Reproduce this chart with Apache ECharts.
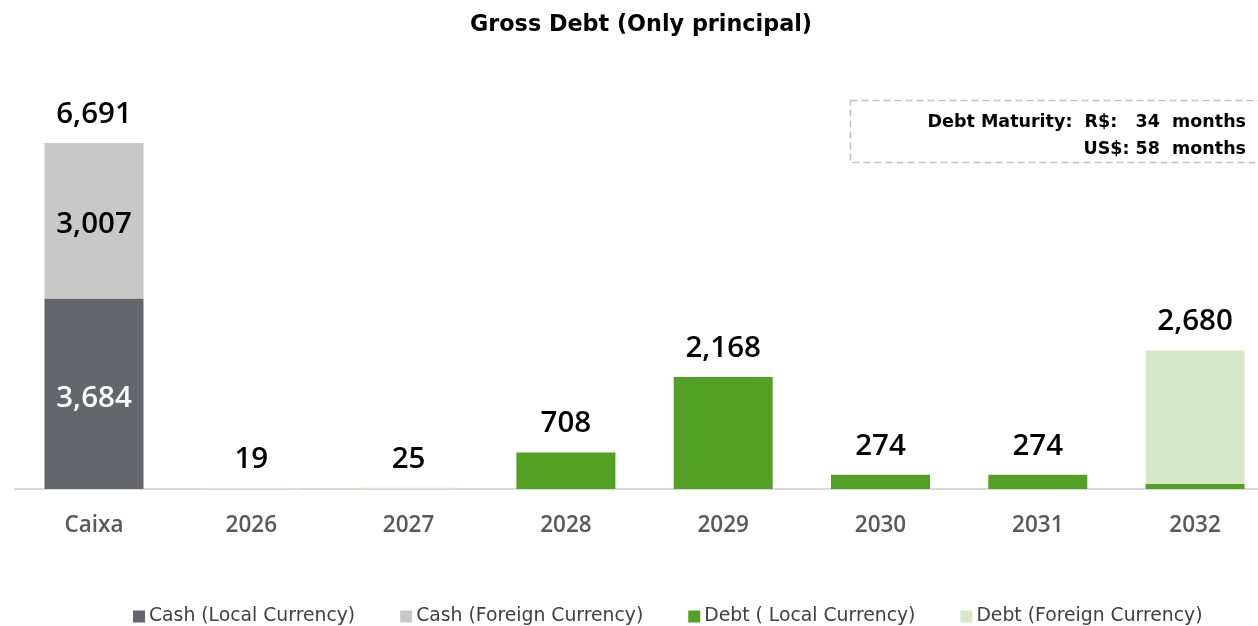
<!DOCTYPE html>
<html>
<head>
<meta charset="utf-8">
<script src="https://cdn.jsdelivr.net/npm/echarts@6/dist/echarts.min.js"></script>
<style>
html,body{margin:0;padding:0;background:#fff;}
#chart{width:1258px;height:626px;}
</style>
</head>
<body>
<div id="chart"></div>
<script>
const categories = ['Caixa', '2026', '2027', '2028', '2029', '2030', '2031', '2032'];
const cashLocal   = [3684, 0, 0, 0, 0, 0, 0, 0];
const cashForeign = [3007, 0, 0, 0, 0, 0, 0, 0];
const debtLocal   = [0, 0, 0, 708, 2168, 274, 274, 100];
const debtForeign = [0, 19, 25, 0, 0, 0, 0, 2580];
const totals      = [6691, 19, 25, 708, 2168, 274, 274, 2680];
const maturityLines = ['Debt Maturity:  R$:   34  months', 'US$: 58  months'];

const fmt = v => Number(v).toLocaleString('en-US');
const chart = echarts.init(document.getElementById('chart'));

const valueFont = { fontFamily: 'Open Sans', fontSize: 29.5, fontWeight: 600 };

chart.setOption({
  animation: false,
  title: {
    text: 'Gross Debt (Only principal)',
    left: 470, top: 14, padding: 0,
    textStyle: { fontFamily: 'DejaVu Sans', fontWeight: 'bold', fontSize: 22.3, color: '#000' }
  },
  legend: {
    data: ['Cash (Local Currency)', 'Cash (Foreign Currency)', 'Debt ( Local Currency)', 'Debt (Foreign Currency)'],
    left: 133, top: 607, padding: 0,
    itemWidth: 12, itemHeight: 12, itemGap: 45,
    icon: 'rect',
    textStyle: { fontFamily: 'DejaVu Sans', fontSize: 18.8, color: '#404040', padding: [0, 0, 0, -1] }
  },
  grid: { left: 15.35, top: 75.3, width: 1258.4, height: 413.7, containLabel: false, outerBoundsMode: 'none' },
  xAxis: {
    type: 'category',
    data: categories,
    axisLine: { show: true, lineStyle: { color: '#d9d9d9', width: 2 } },
    axisTick: { show: false },
    axisLabel: { margin: 25, fontFamily: 'Open Sans', fontWeight: 600, fontSize: 22.5, color: '#595959' }
  },
  yAxis: { type: 'value', min: 0, max: 8000, show: false, splitLine: { show: false } },
  series: [
    {
      name: 'Cash (Local Currency)', type: 'bar', stack: 's', barWidth: 99,
      data: cashLocal, itemStyle: { color: '#63666a' },
      label: { show: true, position: 'inside', color: '#fff', ...valueFont, offset: [0, 5],
        formatter: p => p.value ? fmt(p.value) : '' }
    },
    {
      name: 'Cash (Foreign Currency)', type: 'bar', stack: 's', barWidth: 99,
      data: cashForeign, itemStyle: { color: '#c8c8c8' },
      label: { show: true, position: 'inside', color: '#000', ...valueFont, offset: [0, 4],
        formatter: p => p.value ? fmt(p.value) : '' }
    },
    {
      name: 'Debt ( Local Currency)', type: 'bar', stack: 's', barWidth: 99,
      data: debtLocal, itemStyle: { color: '#52a125' }
    },
    {
      name: 'Debt (Foreign Currency)', type: 'bar', stack: 's', barWidth: 99,
      data: debtForeign, itemStyle: { color: '#d5e8c7' }
    },
    {
      name: 'Total', type: 'line', data: totals, z: 10,
      symbol: 'circle', symbolSize: 1,
      itemStyle: { color: 'rgba(0,0,0,0)' },
      lineStyle: { opacity: 0 },
      label: { show: true, position: 'top', distance: 13, color: '#000', ...valueFont,
        formatter: p => fmt(p.value) }
    }
  ],
  graphic: [
    {
      type: 'rect', left: 848, top: 98, silent: true,
      shape: { width: 430, height: 62 },
      style: { fill: 'none', stroke: '#c0c0c0', lineWidth: 1.5, lineDash: [7, 4] }
    },
    {
      type: 'text', right: 12, top: 113,
      style: { text: maturityLines[0], fontFamily: 'DejaVu Sans', fontWeight: 'bold', fontSize: 17.5, fill: '#000', align: 'right' }
    },
    {
      type: 'text', right: 12, top: 140,
      style: { text: maturityLines[1], fontFamily: 'DejaVu Sans', fontWeight: 'bold', fontSize: 17.5, fill: '#000', align: 'right' }
    }
  ]
});
</script>
</body>
</html>
